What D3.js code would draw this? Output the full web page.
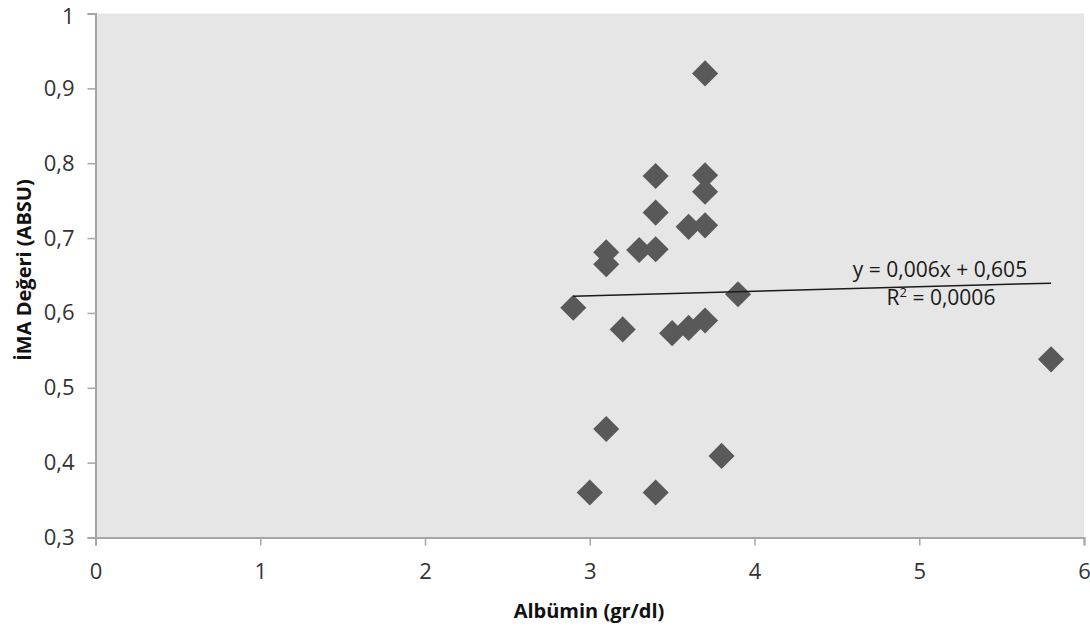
<!DOCTYPE html>
<html>
<head>
<meta charset="utf-8">
<script src="https://cdn.jsdelivr.net/npm/d3@7"></script>
<style>
  body { margin: 0; background: #fff; }
  svg { display: block; font-family: "Open Sans", sans-serif; }
</style>
</head>
<body>
<svg id="chart" width="1090" height="632"></svg>
<script>
// albumin (gr/dl) vs IMA (ABSU)
const albumin = [3.7, 3.4, 3.7, 3.7, 3.4, 3.6, 3.7, 3.1, 3.1, 3.3, 3.4,
                 2.9, 3.2, 3.9, 3.5, 3.6, 3.7, 3.1, 3.8, 3.0, 3.4, 5.8];
const ima = [0.92, 0.783, 0.784, 0.762, 0.734, 0.715, 0.717, 0.681, 0.665, 0.684, 0.685,
             0.607, 0.578, 0.625, 0.573, 0.58, 0.59, 0.445, 0.409, 0.36, 0.36, 0.538];
const xTicks = [0, 1, 2, 3, 4, 5, 6];
const yTicks = [0.3, 0.4, 0.5, 0.6, 0.7, 0.8, 0.9, 1];
const trendSlope = 0.006;
const trendIntercept = 0.605;
const trendLabel = "y = 0,006x + 0,605";
const r2Label = "0,0006";

function drawChart() {
    const svg = d3.select('#chart');
    const fmt = v => String(v).replace('.', ',');

    var x = d3.scaleLinear().domain([0, 6]).range([95.5, 1084]);
    var y = d3.scaleLinear().domain([0.3, 1]).range([537.5, 13.5]);

    // plot background
    svg.append("rect")
       .attr("x", x(0)).attr("y", y(1))
       .attr("width", x(6) - x(0)).attr("height", y(0.3) - y(1))
       .attr("fill", "#e6e6e6");

    // y axis
    let gy = svg.append("g")
                .attr("transform", `translate(${x(0)},0)`)
                .call(d3.axisLeft(y).tickValues(yTicks).tickSize(8).tickPadding(13).tickFormat(fmt));
    // x axis
    let gx = svg.append("g")
                .attr("transform", `translate(0,${y(0.3)})`)
                .call(d3.axisBottom(x).tickValues(xTicks).tickSize(8).tickPadding(18).tickFormat(fmt));

    [gx, gy].forEach(g => {
        g.select(".domain").attr("stroke", "#a6a6a6").attr("stroke-width", 2);
        g.selectAll(".tick line").attr("stroke", "#a6a6a6").attr("stroke-width", 1.5);
        g.selectAll(".tick text").attr("fill", "#333")
         .style("font-size", "22px").style("font-family", "'Open Sans', sans-serif");
    });
    // keep the top label inside the page
    gy.selectAll(".tick text").filter(d => d === 1).attr("y", 3);

    // points
    var diamond = d3.symbol().type(d3.symbolSquare).size(340);
    svg.append("g").selectAll("path")
       .data(albumin.map((a, i) => [a, ima[i]]))
       .enter()
       .append("path")
       .attr("d", diamond)
       .attr("transform", d => `translate(${x(d[0])},${y(d[1])}) rotate(45)`)
       .attr("fill", "#595959");

    // linear trendline over data range
    const xMin = d3.min(albumin), xMax = d3.max(albumin);
    svg.append("line")
       .attr("x1", x(xMin)).attr("y1", y(trendSlope * xMin + trendIntercept))
       .attr("x2", x(xMax)).attr("y2", y(trendSlope * xMax + trendIntercept))
       .attr("stroke", "#1a1a1a").attr("stroke-width", 1.5);

    // equation labels
    svg.append("text")
       .attr("x", 940).attr("y", 277)
       .attr("text-anchor", "middle")
       .attr("fill", "#1a1a1a")
       .style("font-size", "21px")
       .text(trendLabel);
    let r2 = svg.append("text")
       .attr("x", 941).attr("y", 305)
       .attr("text-anchor", "middle")
       .attr("fill", "#1a1a1a")
       .style("font-size", "21px");
    r2.append("tspan").text("R");
    r2.append("tspan").attr("dy", -8).style("font-size", "13px").text("2");
    r2.append("tspan").attr("dy", 8).text(" = " + r2Label);

    // axis titles
    svg.append("text")
       .attr("transform", `translate(31,270) rotate(-90)`)
       .attr("text-anchor", "middle")
       .attr("fill", "#111")
       .style("font-size", "20px").style("font-weight", "bold")
       .text("İMA Değeri (ABSU)");
    svg.append("text")
       .attr("x", 589).attr("y", 618)
       .attr("text-anchor", "middle")
       .attr("fill", "#111")
       .style("font-size", "20px").style("font-weight", "bold")
       .text("Albümin (gr/dl)");
}

drawChart();
</script>
</body>
</html>
